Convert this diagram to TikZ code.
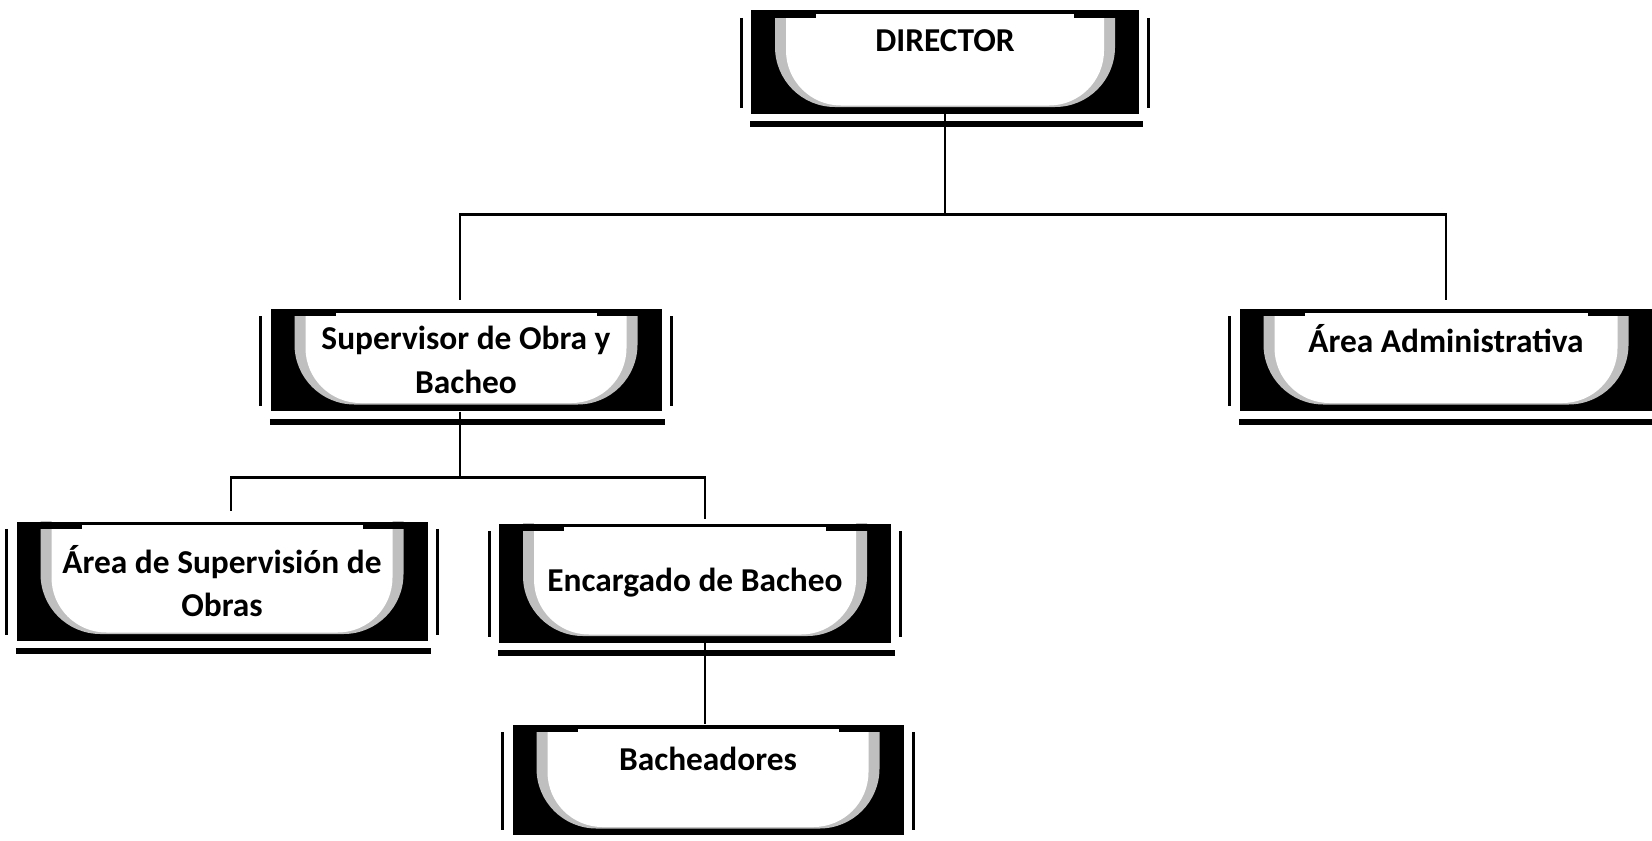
\documentclass[tikz,border=0pt]{standalone}
\usepackage{fontspec}
\setmainfont{Carlito}
\usetikzlibrary{calc}

\tikzset{
  puesto/.style={rectangle, fill=black, inner sep=0pt, align=center,
    font=\fontsize{9.5}{12.3}\selectfont\bfseries,
    path picture={
      \fill[gray!50, rounded corners=0.6cm]
        ($(path picture bounding box.north west)+(0.24,0.7)$) rectangle
        ($(path picture bounding box.south east)+(-0.24,0.065)$);
      \fill[white, rounded corners=0.55cm]
        ($(path picture bounding box.north west)+(0.35,0.7)$) rectangle
        ($(path picture bounding box.south east)+(-0.35,0.08)$);
      \fill[black] (path picture bounding box.north west) rectangle
        ($(path picture bounding box.north east)+(0,-0.035)$);
      \fill[black] (path picture bounding box.north west) rectangle
        ($(path picture bounding box.north west)+(0.65,-0.07)$);
      \fill[black] (path picture bounding box.north east) rectangle
        ($(path picture bounding box.north east)+(-0.65,-0.07)$);
    }},
  raya/.style={line width=1.6pt},
  barra/.style={line width=0.9pt},
  linea/.style={line width=0.8pt},
}

\begin{document}
\begin{tikzpicture}
  \useasboundingbox (0,0) rectangle (16.52,-8.40);

  \node[puesto, minimum width=3.88cm, minimum height=1.03cm] (dir) at (9.45,-0.62) {DIRECTOR\\\phantom{X}};
  \node[puesto, minimum width=3.91cm, minimum height=1.02cm] (sup) at (4.66,-3.60) {Supervisor de Obra y\\Bacheo};
  \node[puesto, minimum width=4.13cm, minimum height=1.02cm] (adm) at (14.46,-3.60) {Área Administrativa\\\phantom{X}};
  \node[puesto, minimum width=4.11cm, minimum height=1.19cm] (asup) at (2.22,-5.81) {Área de Supervisión de\\Obras};
  \node[puesto, minimum width=3.92cm, minimum height=1.19cm] (enc) at (6.95,-5.83) {Encargado de Bacheo};
  \node[puesto, minimum width=3.91cm, minimum height=1.10cm] (bach) at (7.08,-7.80) {Bacheadores\\\phantom{X}};

  % marco exterior de cada cuadro
  \foreach \n in {dir,sup,adm,asup,enc,bach}{
    \draw[raya] ([yshift=-0.1cm]\n.south west) -- ([xshift=0.03cm,yshift=-0.1cm]\n.south east);
    \draw[barra] ([xshift=-0.09cm,yshift=-0.08cm]\n.north west) -- ([xshift=-0.09cm,yshift=0.06cm]\n.south west);
    \draw[barra] ([xshift=0.09cm,yshift=-0.08cm]\n.north east) -- ([xshift=0.09cm,yshift=0.06cm]\n.south east);
  }

  \draw[linea] (dir.south) -- ++(0,-1.0) coordinate (j1);
  \draw[linea, shorten >=0.08cm] (j1) -| ([xshift=-0.06cm]sup.north);
  \draw[linea, shorten >=0.08cm] (j1) -| (adm.north);
  \draw[linea] ([xshift=-0.06cm]sup.south) -- ++(0,-0.66) coordinate (j2);
  \draw[linea, shorten >=0.1cm] (j2) -| ([xshift=0.09cm]asup.north);
  \draw[linea, shorten >=0.04cm] (j2) -| ([xshift=0.1cm]enc.north);
  \draw[linea] ([xshift=0.1cm]enc.south) -- ([xshift=-0.03cm]bach.north);
\end{tikzpicture}
\end{document}
